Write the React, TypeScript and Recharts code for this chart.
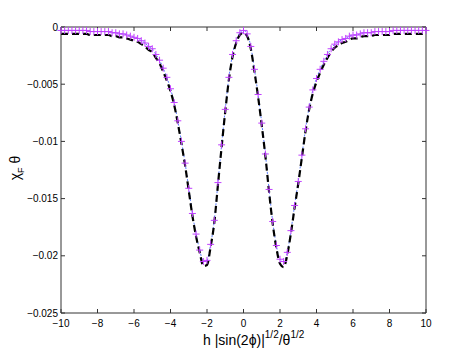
import { LineChart, Line, XAxis, YAxis } from 'recharts';

// h |sin(2phi)|^(1/2) / theta^(1/2)
const hValues = [
  -10, -9.8, -9.6, -9.4, -9.2, -9, -8.8, -8.6, -8.4, -8.2,
  -8, -7.8, -7.6, -7.4, -7.2, -7, -6.8, -6.6, -6.4, -6.2,
  -6, -5.8, -5.6, -5.4, -5.2, -5, -4.8, -4.6, -4.4, -4.2,
  -4, -3.8, -3.6, -3.4, -3.2, -3, -2.8, -2.6, -2.4, -2.2,
  -2, -1.8, -1.6, -1.4, -1.2, -1, -0.8, -0.6, -0.4, -0.2,
  0,
  0.2, 0.4, 0.6, 0.8, 1, 1.2, 1.4, 1.6, 1.8, 2,
  2.2, 2.4, 2.6, 2.8, 3, 3.2, 3.4, 3.6, 3.8, 4,
  4.2, 4.4, 4.6, 4.8, 5, 5.2, 5.4, 5.6, 5.8, 6,
  6.2, 6.4, 6.6, 6.8, 7, 7.2, 7.4, 7.6, 7.8, 8,
  8.2, 8.4, 8.6, 8.8, 9, 9.2, 9.4, 9.6, 9.8, 10,
];

// black dashed curve
const chiExact = [
  -0.0006, -0.0006, -0.0006, -0.0006, -0.0006, -0.0006, -0.0006, -0.0006, -0.0007, -0.0007,
  -0.0007, -0.0007, -0.0007, -0.0007, -0.0008, -0.0008, -0.0009, -0.0009, -0.001, -0.0011,
  -0.0012, -0.0013, -0.0015, -0.0017, -0.002, -0.0022, -0.0027, -0.0032, -0.0039, -0.0047,
  -0.0056, -0.0068, -0.0084, -0.0102, -0.0121, -0.0143, -0.0165, -0.0183, -0.0197, -0.0209,
  -0.0208, -0.0192, -0.0171, -0.0138, -0.0105, -0.0074, -0.0046, -0.0026, -0.0014, -0.0007,
  -0.0005,
  -0.0008, -0.0019, -0.0039, -0.0061, -0.0086, -0.0113, -0.0144, -0.0172, -0.0193, -0.0207,
  -0.021, -0.0199, -0.018, -0.0158, -0.0137, -0.0114, -0.0091, -0.0072, -0.0058, -0.0048,
  -0.004, -0.0033, -0.0027, -0.0022, -0.0018, -0.0016, -0.0014, -0.0013, -0.0011, -0.001,
  -0.001, -0.0009, -0.0008, -0.0008, -0.0008, -0.0007, -0.0007, -0.0007, -0.0007, -0.0007,
  -0.0006, -0.0006, -0.0006, -0.0006, -0.0006, -0.0006, -0.0006, -0.0006, -0.0006, -0.0006,
];

// magenta + markers (blue dotted line runs through the same points)
const chiMarked = [
  -0.0003, -0.0003, -0.0003, -0.0003, -0.0003, -0.0003, -0.0003, -0.0003, -0.0004, -0.0004,
  -0.0004, -0.0004, -0.0004, -0.0004, -0.0005, -0.0005, -0.0006, -0.0006, -0.0007, -0.0008,
  -0.0009, -0.001, -0.0012, -0.0014, -0.0017, -0.0019, -0.0024, -0.0029, -0.0036, -0.0044,
  -0.0054, -0.0066, -0.0082, -0.01, -0.0119, -0.0141, -0.0163, -0.0181, -0.0195, -0.0205,
  -0.0204, -0.019, -0.0169, -0.0136, -0.0103, -0.0072, -0.0044, -0.0024, -0.0012, -0.0005,
  -0.0003,
  -0.0006, -0.0017, -0.0037, -0.0059, -0.0084, -0.0111, -0.0142, -0.017, -0.0191, -0.0203,
  -0.0205, -0.0197, -0.0178, -0.0156, -0.0135, -0.0112, -0.0089, -0.007, -0.0055, -0.0045,
  -0.0037, -0.003, -0.0024, -0.0019, -0.0015, -0.0013, -0.0011, -0.001, -0.0008, -0.0007,
  -0.0007, -0.0006, -0.0005, -0.0005, -0.0005, -0.0004, -0.0004, -0.0004, -0.0004, -0.0004,
  -0.0003, -0.0003, -0.0003, -0.0003, -0.0003, -0.0003, -0.0003, -0.0003, -0.0003, -0.0003,
];

const xTicks = [-10, -8, -6, -4, -2, 0, 2, 4, 6, 8, 10];
const yTicks = [-0.025, -0.02, -0.015, -0.01, -0.005, 0];

const data = hValues.map((h, i) => ({ h, exact: chiExact[i], marked: chiMarked[i] }));

const fmt = (v: number) => (v < 0 ? '\u2212' + String(Math.abs(v)) : String(v));
const blank = () => '';

const font = 'Liberation Sans, Arial, sans-serif';
const tickFont = { fontFamily: font, fontSize: 10, fill: '#000' };
const axisColor = '#333';
const supStyle = { fontSize: 10, position: 'relative' as const, top: -7 };

function PlusDot(props: any) {
  const { cx, cy, index } = props;
  if (cx == null || cy == null) return <g key={`p${index}`} />;
  const r = 3.5;
  return (
    <path
      key={`p${index}`}
      d={`M${cx - r},${cy}H${cx + r}M${cx},${cy - r}V${cy + r}`}
      stroke="#c040ff"
      strokeWidth={1}
      fill="none"
    />
  );
}

export default function App() {
  return (
    <div style={{ position: 'absolute', left: 0, top: 0, width: 471, height: 354, background: '#fff' }}>
      <LineChart width={471} height={354} data={data} margin={{ top: 26, right: 44, bottom: 21, left: 6 }}>
        <XAxis
          dataKey="h"
          type="number"
          domain={[-10, 10]}
          ticks={xTicks}
          tickFormatter={fmt}
          height={20}
          tickSize={-4}
          tickMargin={11}
          stroke={axisColor}
          tick={tickFont}
        />
        <XAxis
          xAxisId="top"
          dataKey="h"
          orientation="top"
          type="number"
          domain={[-10, 10]}
          ticks={xTicks}
          tickFormatter={blank}
          height={1}
          tickSize={-4}
          stroke={axisColor}
        />
        <YAxis
          type="number"
          domain={[-0.025, 0]}
          ticks={yTicks}
          tickFormatter={fmt}
          width={55}
          tickSize={-4}
          tickMargin={7}
          stroke={axisColor}
          tick={tickFont}
        />
        <YAxis
          yAxisId="right"
          orientation="right"
          type="number"
          domain={[-0.025, 0]}
          ticks={yTicks}
          tickFormatter={blank}
          width={1}
          tickSize={-4}
          stroke={axisColor}
        />
        {/* invisible series so the box axes (top/right) get a scale */}
        <Line
          xAxisId="top"
          yAxisId="right"
          dataKey="exact"
          stroke="none"
          dot={false}
          activeDot={false}
          isAnimationActive={false}
        />
        <Line
          dataKey="marked"
          type="monotone"
          stroke="none"
          dot={PlusDot}
          isAnimationActive={false}
        />
        <Line
          dataKey="marked"
          type="monotone"
          stroke="#5a7dff"
          strokeWidth={1}
          strokeDasharray="2 2"
          dot={false}
          isAnimationActive={false}
        />
        <Line
          dataKey="exact"
          type="monotone"
          stroke="#000"
          strokeWidth={2.2}
          strokeDasharray="7 4"
          dot={false}
          isAnimationActive={false}
        />
      </LineChart>
      <div
        style={{
          position: 'absolute',
          left: 15,
          top: 168,
          transform: 'translate(-50%, -50%) rotate(-90deg)',
          fontFamily: font,
          fontSize: 14,
          lineHeight: '14px',
          whiteSpace: 'nowrap',
        }}
      >
        χ<sub style={{ fontSize: 9, lineHeight: 0 }}>F</sub> θ
      </div>
      <div
        style={{
          position: 'absolute',
          left: 203,
          top: 333,
          fontFamily: font,
          fontSize: 14,
          lineHeight: '14px',
          whiteSpace: 'nowrap',
        }}
      >
        h |sin(2ϕ)|<span style={supStyle}>1/2</span>/θ<span style={supStyle}>1/2</span>
      </div>
    </div>
  );
}
